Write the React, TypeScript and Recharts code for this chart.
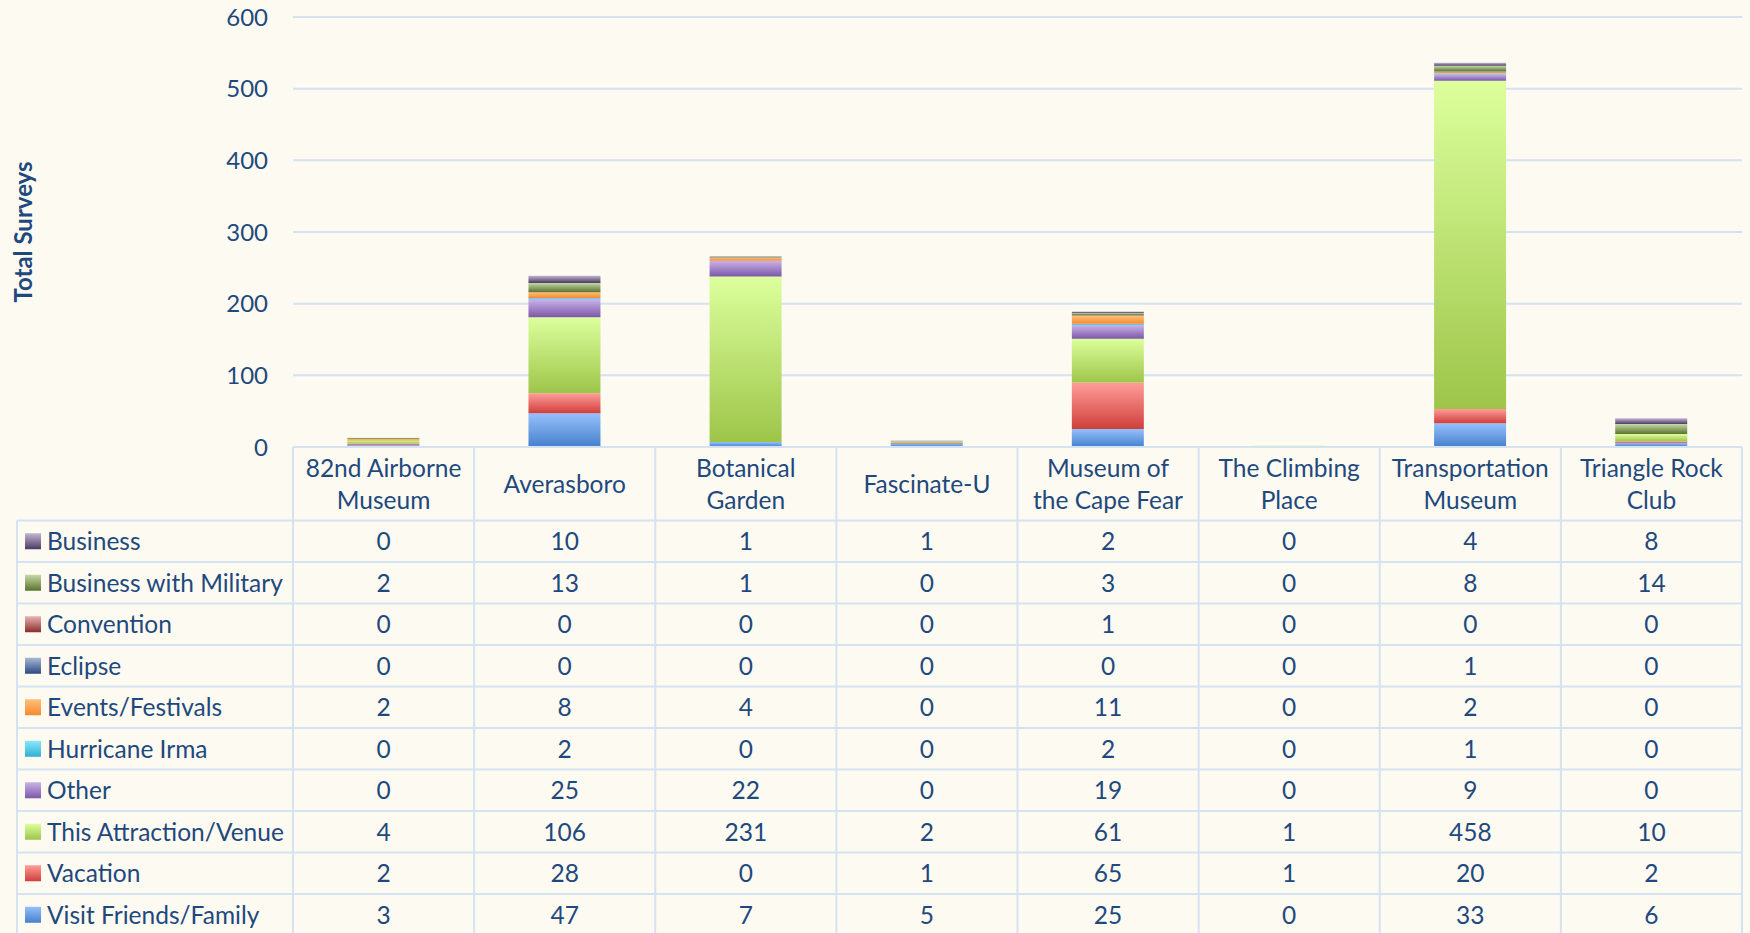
import { BarChart, Bar, XAxis, YAxis, CartesianGrid } from "recharts"

// header labels for each venue (line breaks as in the data table)
const categories = [
  "82nd Airborne\nMuseum",
  "Averasboro",
  "Botanical\nGarden",
  "Fascinate-U",
  "Museum of\nthe Cape Fear",
  "The Climbing\nPlace",
  "Transportation\nMuseum",
  "Triangle Rock\nClub",
]

// series, in the order the data table lists them (top row first)
const seriesNames = [
  "Business",
  "Business with Military",
  "Convention",
  "Eclipse",
  "Events/Festivals",
  "Hurricane Irma",
  "Other",
  "This Attraction/Venue",
  "Vacation",
  "Visit Friends/Family",
]

const business = [0, 10, 1, 1, 2, 0, 4, 8]
const businessMilitary = [2, 13, 1, 0, 3, 0, 8, 14]
const convention = [0, 0, 0, 0, 1, 0, 0, 0]
const eclipse = [0, 0, 0, 0, 0, 0, 1, 0]
const eventsFestivals = [2, 8, 4, 0, 11, 0, 2, 0]
const hurricaneIrma = [0, 2, 0, 0, 2, 0, 1, 0]
const other = [0, 25, 22, 0, 19, 0, 9, 0]
const thisAttraction = [4, 106, 231, 2, 61, 1, 458, 10]
const vacation = [2, 28, 0, 1, 65, 1, 20, 2]
const visitFriends = [3, 47, 7, 5, 25, 0, 33, 6]

const seriesValues = [
  business,
  businessMilitary,
  convention,
  eclipse,
  eventsFestivals,
  hurricaneIrma,
  other,
  thisAttraction,
  vacation,
  visitFriends,
]

const yTicks = [0, 100, 200, 300, 400, 500, 600]

// gradient stops (top, bottom) per series
const seriesColors: [string, string][] = [
  ["#c2b5d1", "#4b3b60"],
  ["#c6d9a8", "#5a722e"],
  ["#e8b3b2", "#8a2d2c"],
  ["#a9b9d8", "#2c4a80"],
  ["#ffbe7c", "#f68a2c"],
  ["#8ce6f8", "#2fb0d6"],
  ["#cbb2ea", "#7b58a6"],
  ["#dcff9c", "#9ec54a"],
  ["#ff9d99", "#cf3f3b"],
  ["#96c0fb", "#4580cc"],
]

const data = categories.map((label, i) => {
  const row: Record<string, any> = { label }
  seriesValues.forEach((vals, s) => {
    row["s" + s] = vals[i]
  })
  return row
})

const W = 1750
const H = 933
const plotLeft = 293
const plotRight = 1742
const colW = (plotRight - plotLeft) / categories.length
const tableLeft = 17
const headerBottom = 520.5
const rowH = 41.5
const textColor = "#1f497d"
const gridColor = "#d5e2f2"
const font = "Lato, 'Open Sans', sans-serif"
const fs = 24.5

function TableTick(props: any) {
  const { x, y, payload, index } = props
  const left = x - colW / 2
  const right = x + colW / 2
  const bottom = headerBottom + rowH * seriesNames.length
  const lines = String(payload.value).split("\n")
  const headerMid = (y + headerBottom) / 2
  const lineGap = 32

  return (
    <g>
      <line x1={left} y1={y} x2={left} y2={bottom} stroke={gridColor} strokeWidth={2} />
      {index === categories.length - 1 && (
        <line x1={right} y1={y} x2={right} y2={bottom} stroke={gridColor} strokeWidth={2} />
      )}
      {lines.map((t, k) => (
        <text
          key={k}
          x={x}
          y={headerMid + (k - (lines.length - 1) / 2) * lineGap + fs * 0.36}
          textAnchor="middle"
          fill={textColor}
          fontSize={fs}
          fontFamily={font}
        >
          {t}
        </text>
      ))}
      {seriesNames.map((name, s) => {
        const top = headerBottom + rowH * s
        return (
          <g key={name}>
            <line x1={left} y1={top} x2={right} y2={top} stroke={gridColor} strokeWidth={2} />
            <text
              x={x}
              y={top + rowH / 2 + fs * 0.36}
              textAnchor="middle"
              fill={textColor}
              fontSize={fs}
              fontFamily={font}
            >
              {seriesValues[s][index]}
            </text>
          </g>
        )
      })}
      {index === 0 && (
        <g>
          <line x1={tableLeft} y1={headerBottom} x2={tableLeft} y2={bottom} stroke={gridColor} strokeWidth={2} />
          {seriesNames.map((name, s) => {
            const top = headerBottom + rowH * s
            return (
              <g key={name}>
                <line x1={tableLeft} y1={top} x2={left} y2={top} stroke={gridColor} strokeWidth={2} />
                <rect x={25} y={top + rowH / 2 - 8} width={16} height={16} fill={`url(#grad${s})`} />
                <text
                  x={47}
                  y={top + rowH / 2 + fs * 0.36}
                  fill={textColor}
                  fontSize={fs}
                  fontFamily={font}
                >
                  {name}
                </text>
              </g>
            )
          })}
        </g>
      )}
    </g>
  )
}

function AxisTitle(props: any) {
  const vb = props.viewBox || {}
  const cy = (vb.y ?? 17) + (vb.height ?? 430) / 2
  return (
    <text
      x={22}
      y={cy}
      transform={`rotate(-90, 22, ${cy})`}
      textAnchor="middle"
      dominantBaseline="central"
      fill={textColor}
      fontSize={24}
      fontWeight="bold"
      fontFamily={font}
    >
      Total Surveys
    </text>
  )
}

export default function App() {
  // draw bottom series first so the stack matches the table order read upwards
  const order = seriesNames.map((_, i) => i).reverse()

  return (
    <div style={{ position: "absolute", left: 0, top: 0, width: W, height: H, background: "#fdfaf2" }}>
      <BarChart
        width={W}
        height={H}
        data={data}
        margin={{ top: 17, right: W - plotRight, left: 0, bottom: 0 }}
        barCategoryGap="30%"
      >
        <defs>
          {seriesColors.map(([top, bottom], s) => (
            <linearGradient key={s} id={`grad${s}`} x1="0" y1="0" x2="0" y2="1">
              <stop offset="0%" stopColor={top} />
              <stop offset="100%" stopColor={bottom} />
            </linearGradient>
          ))}
        </defs>
        <CartesianGrid vertical={false} stroke={gridColor} strokeWidth={2} />
        <YAxis
          width={plotLeft}
          domain={[0, 600]}
          ticks={yTicks}
          axisLine={false}
          tickLine={false}
          tickSize={0}
          tickMargin={25}
          tick={{ fill: textColor, fontSize: 24, fontFamily: font }}
          label={<AxisTitle />}
        />
        <XAxis
          dataKey="label"
          height={486}
          interval={0}
          tickLine={false}
          tickSize={0}
          tickMargin={0}
          axisLine={{ stroke: gridColor, strokeWidth: 2 }}
          tick={(p: any) => <TableTick {...p} />}
        />
        {order.map((s) => (
          <Bar
            key={s}
            dataKey={"s" + s}
            name={seriesNames[s]}
            stackId="a"
            fill={`url(#grad${s})`}
            isAnimationActive={false}
          />
        ))}
      </BarChart>
    </div>
  )
}
